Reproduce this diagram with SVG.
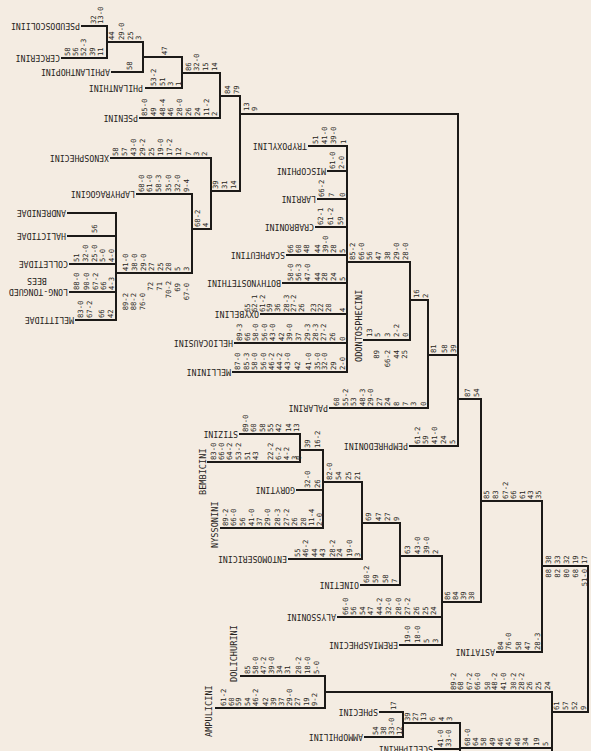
<svg xmlns="http://www.w3.org/2000/svg" width="591" height="751" viewBox="0 0 591 751">
<style>
.ln{stroke:#1c1a18;stroke-width:2;fill:none;stroke-linecap:square}
.t{font-family:"DejaVu Sans Mono","Liberation Mono",monospace;font-size:8.2px;fill:#262320}
.v{font-family:"DejaVu Sans Mono","Liberation Mono",monospace;font-size:8.6px;fill:#262320}
.n{font-family:"DejaVu Sans Mono","Liberation Mono",monospace;font-size:7.2px;fill:#262320}
.e{text-anchor:end}
</style>
<rect width="591" height="751" fill="#f4ece2"/>
<g id="connectors">
<path class="ln" d="M82,26H107 M62,58H107 M107,26V58 M107,42H143 M112,72H143 M143,42V72 M143,57H182 M146,88H182 M182,57V88 M182,73H220 M140,118H220 M220,73V118 M220,96H240 M240,96V191 M240,114H458 M111,158H211 M211,158V229 M211,191H240 M137,194H192 M192,194V273 M192,229H211 M68,213H116 M68,236H116 M70,264H116 M70,292H116 M76,320H116 M116,213V320 M116,273H192"/>
<path class="ln" d="M309,146H347 M328,171H347 M318,199H347 M316,227H347 M287,255H347 M283,283H347 M261,314H347 M235,343H347 M233,372H347 M347,146V372 M347,262H410 M364,340H410 M410,262V340 M410,300H428 M330,408H428 M428,300V408 M428,355H458 M410,446H458 M458,114V446 M458,399H481 M481,399V602"/>
<path class="ln" d="M240,434H300 M208,462H300 M300,434V462 M300,450H323 M297,490H323 M221,528H323 M323,450V528 M323,482H362 M289,559H362 M362,482V559 M362,523H400 M361,585H400 M400,523V585 M400,556H442 M338,617H442 M400,645H442 M442,556V645 M442,602H481 M481,501H542 M497,652H542 M542,501V652 M542,566H588 M588,566V712 M552,712H588"/>
<path class="ln" d="M241,676H325 M216,708H325 M325,676V708 M325,692H552 M552,692V760 M380,712H403 M365,737H403 M403,712V737 M403,723H460 M460,723V760 M435,749H460 M460,748H552"/>
</g>
<g id="pseudoscoliini"><text class="t" transform="translate(80,26) rotate(180)" y="3">PSEUDOSCOLIINI</text>
<text class="n" transform="translate(2.6,24) rotate(-90)"><tspan x="0" y="93">32</tspan><tspan x="0" y="100">13-0</tspan></text></g>
<g id="cercerini"><text class="t" transform="translate(60,58) rotate(180)" y="3">CERCERINI</text>
<text class="n" transform="translate(2.6,56) rotate(-90)"><tspan x="0" y="67">58</tspan><tspan x="0" y="75">56</tspan><tspan x="0" y="83">52-3</tspan><tspan x="0" y="92">39</tspan><tspan x="0" y="100">11</tspan></text></g>
<g id="node-ps-ce"><text class="n" transform="translate(2.6,40) rotate(-90)"><tspan x="0" y="111">44</tspan><tspan x="0" y="121">29-0</tspan><tspan x="0" y="130">25</tspan><tspan x="0" y="138">3</tspan></text></g>
<g id="aphilanthopini"><text class="t" transform="translate(110,72) rotate(180)" y="3">APHILANTHOPINI</text>
<text class="n" transform="translate(2.6,70) rotate(-90)"><tspan x="0" y="129">58</tspan></text></g>
<g id="node-aph"><text class="n" transform="translate(2.6,55) rotate(-90)"><tspan x="0" y="164">47</tspan></text></g>
<g id="philanthini"><text class="t" transform="translate(143,88) rotate(180)" y="3">PHILANTHINI</text>
<text class="n" transform="translate(2.6,86) rotate(-90)"><tspan x="0" y="153">53-2</tspan><tspan x="0" y="162">51</tspan><tspan x="0" y="170">3</tspan><tspan x="0" y="178">1</tspan></text></g>
<g id="node-phil"><text class="n" transform="translate(2.6,71) rotate(-90)"><tspan x="0" y="188">86</tspan><tspan x="0" y="196">32-0</tspan><tspan x="0" y="205">15</tspan><tspan x="0" y="214">14</tspan></text></g>
<g id="psenini"><text class="t" transform="translate(138,118) rotate(180)" y="3">PSENINI</text>
<text class="n" transform="translate(2.6,116) rotate(-90)"><tspan x="0" y="144">85-0</tspan><tspan x="0" y="153">49</tspan><tspan x="0" y="162">48-4</tspan><tspan x="0" y="170">46</tspan><tspan x="0" y="179">28-0</tspan><tspan x="0" y="188">26</tspan><tspan x="0" y="197">24</tspan><tspan x="0" y="206">11-2</tspan><tspan x="0" y="214">2</tspan></text></g>
<g id="node-pse"><text class="n" transform="translate(2.6,94) rotate(-90)"><tspan x="0" y="227">84</tspan><tspan x="0" y="236">79</tspan></text></g>
<g id="node-top"><text class="n" transform="translate(2.6,111) rotate(-90)"><tspan x="0" y="246">13</tspan><tspan x="0" y="254">9</tspan></text></g>
<g id="xenosphecini"><text class="t" transform="translate(109,158) rotate(180)" y="3">XENOSPHECINI</text>
<text class="n" transform="translate(2.6,156) rotate(-90)"><tspan x="0" y="115">58</tspan><tspan x="0" y="124">57</tspan><tspan x="0" y="133">43-0</tspan><tspan x="0" y="142">29-2</tspan><tspan x="0" y="151">25</tspan><tspan x="0" y="160">19-0</tspan><tspan x="0" y="169">17-2</tspan><tspan x="0" y="178">12</tspan><tspan x="0" y="188">7</tspan><tspan x="0" y="196">3</tspan><tspan x="0" y="204">2</tspan></text></g>
<g id="node-xeno"><text class="n" transform="translate(2.6,189) rotate(-90)"><tspan x="0" y="215">39</tspan><tspan x="0" y="224">31</tspan><tspan x="0" y="233">14</tspan></text></g>
<g id="laphyragogini"><text class="t" transform="translate(135,194) rotate(180)" y="3">LAPHYRAGOGINI</text>
<text class="n" transform="translate(2.6,192) rotate(-90)"><tspan x="0" y="141">68-0</tspan><tspan x="0" y="149">61-0</tspan><tspan x="0" y="158">58-3</tspan><tspan x="0" y="168">35-0</tspan><tspan x="0" y="177">32-0</tspan><tspan x="0" y="186">9-4</tspan></text></g>
<g id="node-laph"><text class="n" transform="translate(2.6,227) rotate(-90)"><tspan x="0" y="197">68-2</tspan><tspan x="0" y="205">4</tspan></text></g>
<g id="andrenidae"><text class="t" transform="translate(66,213) rotate(180)" y="3">ANDRENIDAE</text></g>
<g id="halictidae"><text class="t" transform="translate(66,236) rotate(180)" y="3">HALICTIDAE</text>
<text class="n" transform="translate(2.6,233) rotate(-90)"><tspan x="0" y="94">56</tspan></text></g>
<g id="colletidae"><text class="t" transform="translate(68,264) rotate(180)" y="3">COLLETIDAE</text>
<text class="n" transform="translate(2.6,262) rotate(-90)"><tspan x="0" y="76">51</tspan><tspan x="0" y="85">32-0</tspan><tspan x="0" y="94">25-0</tspan><tspan x="0" y="102">5-0</tspan><tspan x="0" y="111">4-0</tspan></text></g>
<g id="long-tongued-bees"><text class="t" transform="translate(68,292) rotate(180)" y="3">LONG-TONGUED</text><text class="t" transform="translate(37,281) rotate(180)" y="3" text-anchor="middle">BEES</text>
<text class="n" transform="translate(2.6,290) rotate(-90)"><tspan x="0" y="76">88-0</tspan><tspan x="0" y="86">90-0</tspan><tspan x="0" y="95">67-2</tspan><tspan x="0" y="103">66</tspan><tspan x="0" y="111">4-3</tspan></text></g>
<g id="melittidae"><text class="t" transform="translate(74,320) rotate(180)" y="3">MELITTIDAE</text>
<text class="n" transform="translate(2.6,318) rotate(-90)"><tspan x="0" y="80">83-0</tspan><tspan x="0" y="89">67-2</tspan><tspan x="0" y="101">66</tspan><tspan x="0" y="110">42</tspan></text></g>
<g id="node-apoidea"><text class="n" transform="translate(2.6,271) rotate(-90)"><tspan x="0" y="125">41-0</tspan><tspan x="0" y="134">38-0</tspan><tspan x="0" y="143">29-0</tspan><tspan x="0" y="151">27</tspan><tspan x="0" y="160">25</tspan><tspan x="0" y="168">20</tspan><tspan x="0" y="177">5</tspan><tspan x="0" y="186">3</tspan></text>
<text class="n e" transform="translate(2.6,0) rotate(-90)"><tspan x="-293" y="125">89-2</tspan><tspan x="-293" y="133">88-2</tspan><tspan x="-293" y="142">76-0</tspan><tspan x="-282" y="150">72</tspan><tspan x="-282" y="159">71</tspan><tspan x="-281" y="168">70-2</tspan><tspan x="-283" y="177">69</tspan><tspan x="-283" y="186">67-0</tspan></text></g>
<g id="trypoxylini"><text class="t" transform="translate(307,146) rotate(180)" y="3">TRYPOXYLINI</text>
<text class="n" transform="translate(2.6,144) rotate(-90)"><tspan x="0" y="315">51</tspan><tspan x="0" y="324">41-0</tspan><tspan x="0" y="333">39-0</tspan><tspan x="0" y="343">1</tspan></text></g>
<g id="miscophini"><text class="t" transform="translate(326,171) rotate(180)" y="3">MISCOPHINI</text>
<text class="n" transform="translate(2.6,169) rotate(-90)"><tspan x="0" y="332">61-0</tspan><tspan x="0" y="341">2-0</tspan></text></g>
<g id="larrini"><text class="t" transform="translate(316,199) rotate(180)" y="3">LARRINI</text>
<text class="n" transform="translate(2.6,197) rotate(-90)"><tspan x="0" y="321">66-2</tspan><tspan x="0" y="331">7</tspan><tspan x="0" y="342">0</tspan></text></g>
<g id="crabronini"><text class="t" transform="translate(314,227) rotate(180)" y="3">CRABRONINI</text>
<text class="n" transform="translate(2.6,225) rotate(-90)"><tspan x="0" y="320">62-1</tspan><tspan x="0" y="330">61-2</tspan><tspan x="0" y="340">59</tspan></text></g>
<g id="scapheutini"><text class="t" transform="translate(285,255) rotate(180)" y="3">SCAPHEUTINI</text>
<text class="n" transform="translate(2.6,253) rotate(-90)"><tspan x="0" y="290">66</tspan><tspan x="0" y="298">60</tspan><tspan x="0" y="306">48</tspan><tspan x="0" y="317">44</tspan><tspan x="0" y="325">39-0</tspan><tspan x="0" y="333">28</tspan><tspan x="0" y="342">5</tspan></text></g>
<g id="node-crabroninae"><text class="n" transform="translate(2.6,260) rotate(-90)"><tspan x="0" y="352">85-2</tspan><tspan x="0" y="361">66-0</tspan><tspan x="0" y="369">56</tspan><tspan x="0" y="378">47</tspan><tspan x="0" y="387">38</tspan><tspan x="0" y="396">29-0</tspan><tspan x="0" y="405">28-0</tspan></text></g>
<g id="bothynostethini"><text class="t" transform="translate(281,283) rotate(180)" y="3">BOTHYNOSTETHINI</text>
<text class="n" transform="translate(2.6,281) rotate(-90)"><tspan x="0" y="290">58-0</tspan><tspan x="0" y="298">56-3</tspan><tspan x="0" y="307">47-0</tspan><tspan x="0" y="317">44</tspan><tspan x="0" y="324">28</tspan><tspan x="0" y="333">24</tspan><tspan x="0" y="342">5</tspan></text></g>
<g id="oxybelini"><text class="t" transform="translate(259,314) rotate(180)" y="3">OXYBELINI</text>
<text class="n" transform="translate(2.6,312) rotate(-90)"><tspan x="0" y="247">65</tspan><tspan x="0" y="254">62-1</tspan><tspan x="0" y="262">61-2</tspan><tspan x="0" y="269">59</tspan><tspan x="0" y="277">36</tspan><tspan x="0" y="286">28-3</tspan><tspan x="0" y="293">27-2</tspan><tspan x="0" y="301">26</tspan><tspan x="0" y="313">23</tspan><tspan x="0" y="320">22</tspan><tspan x="0" y="328">20</tspan><tspan x="0" y="342">4</tspan></text></g>
<g id="heliocausini"><text class="t" transform="translate(233,343) rotate(180)" y="3">HELIOCAUSINI</text>
<text class="n" transform="translate(2.6,341) rotate(-90)"><tspan x="0" y="239">89-3</tspan><tspan x="0" y="247">66</tspan><tspan x="0" y="255">58-0</tspan><tspan x="0" y="264">56-0</tspan><tspan x="0" y="272">43-0</tspan><tspan x="0" y="281">42</tspan><tspan x="0" y="289">39-0</tspan><tspan x="0" y="298">37</tspan><tspan x="0" y="307">29-3</tspan><tspan x="0" y="315">28-3</tspan><tspan x="0" y="323">27-2</tspan><tspan x="0" y="332">26</tspan><tspan x="0" y="342">0</tspan></text></g>
<g id="mellinini"><text class="t" transform="translate(231,372) rotate(180)" y="3">MELLININI</text>
<text class="n" transform="translate(2.6,370) rotate(-90)"><tspan x="0" y="237">87-0</tspan><tspan x="0" y="246">85-3</tspan><tspan x="0" y="254">58-0</tspan><tspan x="0" y="263">56-0</tspan><tspan x="0" y="271">46-2</tspan><tspan x="0" y="279">44-2</tspan><tspan x="0" y="287">43-0</tspan><tspan x="0" y="297">42</tspan><tspan x="0" y="308">41-0</tspan><tspan x="0" y="317">35-0</tspan><tspan x="0" y="324">32-0</tspan><tspan x="0" y="333">29</tspan><tspan x="0" y="342">2-0</tspan></text></g>
<g id="odontosphecini"><text class="v" transform="translate(362,362) rotate(-90)">ODONTOSPHECINI</text>
<text class="n" transform="translate(2.6,337) rotate(-90)"><tspan x="0" y="369">13</tspan><tspan x="0" y="377">5</tspan><tspan x="0" y="387">3</tspan><tspan x="0" y="396">2-2</tspan><tspan x="0" y="405">0</tspan></text>
<text class="n e" transform="translate(2.6,350) rotate(-90)"><tspan x="0" y="376">89</tspan><tspan x="0" y="387">66-2</tspan><tspan x="0" y="396">44</tspan><tspan x="0" y="404">25</tspan></text></g>
<g id="node-odonto"><text class="n" transform="translate(2.6,298) rotate(-90)"><tspan x="0" y="416">16</tspan><tspan x="0" y="425">2</tspan></text></g>
<g id="palarini"><text class="t" transform="translate(328,408) rotate(180)" y="3">PALARINI</text>
<text class="n" transform="translate(2.6,406) rotate(-90)"><tspan x="0" y="336">60</tspan><tspan x="0" y="345">55-2</tspan><tspan x="0" y="353">53</tspan><tspan x="0" y="362">48-3</tspan><tspan x="0" y="370">29-0</tspan><tspan x="0" y="379">27</tspan><tspan x="0" y="387">24</tspan><tspan x="0" y="396">8</tspan><tspan x="0" y="405">7</tspan><tspan x="0" y="413">3</tspan><tspan x="0" y="423">0</tspan></text></g>
<g id="node-palarini"><text class="n" transform="translate(2.6,353) rotate(-90)"><tspan x="0" y="433">81</tspan><tspan x="0" y="444">58</tspan><tspan x="0" y="453">39</tspan></text></g>
<g id="pemphredonini"><text class="t" transform="translate(408,446) rotate(180)" y="3">PEMPHREDONINI</text>
<text class="n" transform="translate(2.6,444) rotate(-90)"><tspan x="0" y="417">61-2</tspan><tspan x="0" y="425">59</tspan><tspan x="0" y="434">41-0</tspan><tspan x="0" y="443">24</tspan><tspan x="0" y="452">5</tspan></text></g>
<g id="node-pemph"><text class="n" transform="translate(2.6,397) rotate(-90)"><tspan x="0" y="467">87</tspan><tspan x="0" y="476">54</tspan></text></g>
<g id="stizini"><text class="t" transform="translate(238,434) rotate(180)" y="3">STIZINI</text>
<text class="n" transform="translate(2.6,432) rotate(-90)"><tspan x="0" y="245">89-0</tspan><tspan x="0" y="253">60</tspan><tspan x="0" y="262">58</tspan><tspan x="0" y="270">55</tspan><tspan x="0" y="278">42</tspan><tspan x="0" y="288">14</tspan><tspan x="0" y="296">13</tspan></text></g>
<g id="bembicini"><text class="v" transform="translate(206,495) rotate(-90)">BEMBICINI</text>
<text class="n" transform="translate(2.6,460) rotate(-90)"><tspan x="0" y="213">83-0</tspan><tspan x="0" y="221">66-0</tspan><tspan x="0" y="229">64-2</tspan><tspan x="0" y="238">53-2</tspan><tspan x="0" y="247">51</tspan><tspan x="0" y="255">43</tspan><tspan x="0" y="270">22-2</tspan><tspan x="0" y="278">6-2</tspan><tspan x="0" y="286">4-2</tspan><tspan x="0" y="294">3</tspan><tspan x="0" y="298">0</tspan></text></g>
<g id="node-stiz"><text class="n" transform="translate(2.6,448) rotate(-90)"><tspan x="0" y="307">39</tspan><tspan x="0" y="317">16-2</tspan></text></g>
<g id="gorytini"><text class="t" transform="translate(295,490) rotate(180)" y="3">GORYTINI</text>
<text class="n" transform="translate(2.6,488) rotate(-90)"><tspan x="0" y="307">32-0</tspan><tspan x="0" y="317">26</tspan></text></g>
<g id="nyssonini"><text class="v" transform="translate(218,548) rotate(-90)">NYSSONINI</text>
<text class="n" transform="translate(2.6,526) rotate(-90)"><tspan x="0" y="225">89-2</tspan><tspan x="0" y="233">66-0</tspan><tspan x="0" y="242">56</tspan><tspan x="0" y="251">41-0</tspan><tspan x="0" y="259">37</tspan><tspan x="0" y="267">29-0</tspan><tspan x="0" y="277">28-3</tspan><tspan x="0" y="286">27-2</tspan><tspan x="0" y="294">26</tspan><tspan x="0" y="303">20</tspan><tspan x="0" y="311">11-4</tspan><tspan x="0" y="319">2-0</tspan></text></g>
<g id="node-nyss"><text class="n" transform="translate(2.6,480) rotate(-90)"><tspan x="0" y="329">82-0</tspan><tspan x="0" y="338">54</tspan><tspan x="0" y="348">25</tspan><tspan x="0" y="357">21</tspan></text></g>
<g id="entomosericini"><text class="t" transform="translate(287,559) rotate(180)" y="3">ENTOMOSERICINI</text>
<text class="n" transform="translate(2.6,557) rotate(-90)"><tspan x="0" y="297">55</tspan><tspan x="0" y="305">46-2</tspan><tspan x="0" y="314">44</tspan><tspan x="0" y="322">43</tspan><tspan x="0" y="332">28-2</tspan><tspan x="0" y="339">24</tspan><tspan x="0" y="349">19-0</tspan><tspan x="0" y="357">3</tspan></text></g>
<g id="node-ento"><text class="n" transform="translate(2.6,521) rotate(-90)"><tspan x="0" y="368">69</tspan><tspan x="0" y="378">47</tspan><tspan x="0" y="387">27</tspan><tspan x="0" y="396">9</tspan></text></g>
<g id="oinetini"><text class="t" transform="translate(359,585) rotate(180)" y="3">OINETINI</text>
<text class="n" transform="translate(2.6,583) rotate(-90)"><tspan x="0" y="366">60-2</tspan><tspan x="0" y="375">59</tspan><tspan x="0" y="385">58</tspan><tspan x="0" y="394">7</tspan></text></g>
<g id="node-oin"><text class="n" transform="translate(2.6,554) rotate(-90)"><tspan x="0" y="407">63</tspan><tspan x="0" y="417">43-0</tspan><tspan x="0" y="426">39-0</tspan><tspan x="0" y="435">2</tspan></text></g>
<g id="alyssonini"><text class="t" transform="translate(336,617) rotate(180)" y="3">ALYSSONINI</text>
<text class="n" transform="translate(2.6,615) rotate(-90)"><tspan x="0" y="345">66-0</tspan><tspan x="0" y="353">56</tspan><tspan x="0" y="362">54</tspan><tspan x="0" y="370">47</tspan><tspan x="0" y="379">44-2</tspan><tspan x="0" y="388">32-0</tspan><tspan x="0" y="398">28-0</tspan><tspan x="0" y="407">27-2</tspan><tspan x="0" y="416">26</tspan><tspan x="0" y="425">25</tspan><tspan x="0" y="433">24</tspan></text></g>
<g id="eremiasphecini"><text class="t" transform="translate(398,645) rotate(180)" y="3">EREMIASPHECINI</text>
<text class="n" transform="translate(2.6,643) rotate(-90)"><tspan x="0" y="407">19-0</tspan><tspan x="0" y="417">18-0</tspan><tspan x="0" y="426">5</tspan><tspan x="0" y="435">3</tspan></text></g>
<g id="node-aly"><text class="n" transform="translate(2.6,600) rotate(-90)"><tspan x="0" y="447">86</tspan><tspan x="0" y="455">84</tspan><tspan x="0" y="463">39</tspan><tspan x="0" y="471">30</tspan></text></g>
<g id="node-crab-nyss"><text class="n" transform="translate(2.6,499) rotate(-90)"><tspan x="0" y="486">85</tspan><tspan x="0" y="495">83</tspan><tspan x="0" y="505">67-2</tspan><tspan x="0" y="513">66</tspan><tspan x="0" y="522">61</tspan><tspan x="0" y="530">43</tspan><tspan x="0" y="538">35</tspan></text></g>
<g id="astatini"><text class="t" transform="translate(495,652) rotate(180)" y="3">ASTATINI</text>
<text class="n" transform="translate(2.6,650) rotate(-90)"><tspan x="0" y="500">84</tspan><tspan x="0" y="508">76-0</tspan><tspan x="0" y="518">58</tspan><tspan x="0" y="527">47</tspan><tspan x="0" y="537">28-3</tspan></text></g>
<g id="node-astatini"><text class="n" transform="translate(2.6,564) rotate(-90)"><tspan x="0" y="548">38</tspan><tspan x="0" y="557">33</tspan><tspan x="0" y="566">32</tspan><tspan x="0" y="575">19</tspan><tspan x="0" y="584">17</tspan></text>
<text class="n e" transform="translate(2.6,569) rotate(-90)"><tspan x="0" y="548">88</tspan><tspan x="0" y="557">82</tspan><tspan x="0" y="566">80</tspan><tspan x="0" y="575">68</tspan><tspan x="0" y="584">51-0</tspan></text></g>
<g id="dolichurini"><text class="v" transform="translate(237,682) rotate(-90)">DOLICHURINI</text>
<text class="n" transform="translate(2.6,674) rotate(-90)"><tspan x="0" y="247">85</tspan><tspan x="0" y="255">58-0</tspan><tspan x="0" y="263">47-2</tspan><tspan x="0" y="271">39-0</tspan><tspan x="0" y="279">34</tspan><tspan x="0" y="287">31</tspan><tspan x="0" y="298">20-2</tspan><tspan x="0" y="307">18-0</tspan><tspan x="0" y="316">5-0</tspan></text></g>
<g id="ampulicini"><text class="v" transform="translate(212,737) rotate(-90)">AMPULICINI</text>
<text class="n" transform="translate(2.6,706) rotate(-90)"><tspan x="0" y="223">61-2</tspan><tspan x="0" y="231">60</tspan><tspan x="0" y="238">59</tspan><tspan x="0" y="247">54</tspan><tspan x="0" y="255">46-2</tspan><tspan x="0" y="265">42</tspan><tspan x="0" y="273">39</tspan><tspan x="0" y="281">37</tspan><tspan x="0" y="289">29-0</tspan><tspan x="0" y="297">27</tspan><tspan x="0" y="306">19</tspan><tspan x="0" y="314">9-2</tspan></text></g>
<g id="node-ampulicidae"><text class="n" transform="translate(2.6,690) rotate(-90)"><tspan x="0" y="453">89-2</tspan><tspan x="0" y="460">68</tspan><tspan x="0" y="469">67-2</tspan><tspan x="0" y="477">66-0</tspan><tspan x="0" y="487">50</tspan><tspan x="0" y="494">48-2</tspan><tspan x="0" y="503">41-0</tspan><tspan x="0" y="513">30-2</tspan><tspan x="0" y="521">28-2</tspan><tspan x="0" y="529">26</tspan><tspan x="0" y="538">25</tspan><tspan x="0" y="547">24</tspan></text></g>
<g id="node-root"><text class="n" transform="translate(2.6,710) rotate(-90)"><tspan x="0" y="556">61</tspan><tspan x="0" y="565">57</tspan><tspan x="0" y="574">52</tspan><tspan x="0" y="583">9</tspan></text></g>
<g id="sphecini"><text class="t" transform="translate(378,712) rotate(180)" y="3">SPHECINI</text>
<text class="n" transform="translate(2.6,710) rotate(-90)"><tspan x="0" y="393">17</tspan></text></g>
<g id="ammophilini"><text class="t" transform="translate(363,737) rotate(180)" y="3">AMMOPHILINI</text>
<text class="n" transform="translate(2.6,735) rotate(-90)"><tspan x="0" y="375">54</tspan><tspan x="0" y="383">38</tspan><tspan x="0" y="391">33-0</tspan><tspan x="0" y="399">12</tspan></text></g>
<g id="node-sphecini"><text class="n" transform="translate(2.6,721) rotate(-90)"><tspan x="0" y="407">39</tspan><tspan x="0" y="415">27</tspan><tspan x="0" y="423">13</tspan><tspan x="0" y="432">6</tspan><tspan x="0" y="441">4</tspan><tspan x="0" y="449">3</tspan></text></g>
<g id="sceliphrini"><text class="t" transform="translate(433,749) rotate(180)" y="3">SCELIPHRINI</text>
<text class="n" transform="translate(2.6,747) rotate(-90)"><tspan x="0" y="440">41-0</tspan><tspan x="0" y="448">33-0</tspan></text></g>
<g id="node-sphecinae"><text class="n" transform="translate(2.6,746) rotate(-90)"><tspan x="0" y="467">68-0</tspan><tspan x="0" y="475">64</tspan><tspan x="0" y="483">58</tspan><tspan x="0" y="492">49</tspan><tspan x="0" y="500">46</tspan><tspan x="0" y="508">45</tspan><tspan x="0" y="517">40</tspan><tspan x="0" y="525">34</tspan><tspan x="0" y="536">19</tspan><tspan x="0" y="545">5</tspan></text></g>
</svg>
